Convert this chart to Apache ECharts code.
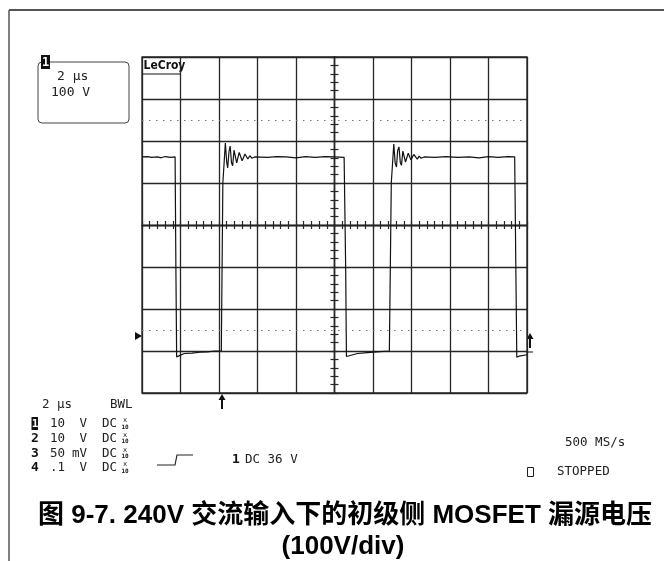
<!DOCTYPE html>
<html>
<head>
<meta charset="utf-8">
<script src="https://cdn.jsdelivr.net/npm/echarts@6/dist/echarts.min.js"></script>
<style>
  html, body { margin: 0; padding: 0; background: #fff; }
  #chart { width: 664px; height: 561px; }
</style>
</head>
<body>
<div id="chart"></div>
<script>
// time in µs relative to screen centre, voltage in V relative to screen centre (100 V/div)
var timeUs = [-10, -9.7, -9.5, -9.2, -9.0, -8.8, -8.5, -8.28, -8.24, -8.20, -8.15, -7.8, -7.4, -7.0, -6.6, -6.2, -5.88,
  -5.8, -5.67, -5.60, -5.55, -5.48, -5.42, -5.35, -5.29, -5.22, -5.16, -5.08, -5.02, -4.95, -4.88, -4.8, -4.73, -4.65, -4.58, -4.5, -4.4, -4.3, -4.15,
  -3.5, -3.0, -2.5, -2.0, -1.5, -1.0, -0.5, 0, 0.5, 0.58, 0.62, 0.7, 1.2, 1.7, 2.2, 2.85,
  2.95, 3.08, 3.15, 3.22, 3.28, 3.35, 3.42, 3.48, 3.55, 3.62, 3.69, 3.76, 3.83, 3.9, 3.97, 4.05, 4.12, 4.2, 4.3, 4.4, 4.5, 4.65,
  5.2, 5.8, 6.4, 7.0, 7.5, 8.0, 8.5, 9.0, 9.36, 9.42, 9.47, 9.6, 10];
var drainV = [162, 163, 161, 162, 160, 163, 161, 162, -100, -314, -312, -306, -305, -303, -302, -300, -300,
  100, 195, 150, 136, 175, 188, 148, 141, 178, 181, 148, 146, 173, 174, 153, 154, 169, 168, 157, 165, 159, 162,
  161, 163, 162, 160, 163, 161, 163, 162, 161, -100, -313, -311, -306, -304, -302, -300,
  100, 193, 148, 138, 177, 186, 148, 142, 176, 179, 150, 149, 171, 172, 155, 156, 168, 166, 157, 164, 159, 162,
  161, 163, 161, 162, 160, 163, 161, 163, 162, -100, -315, -312, -309];
var dottedLevels = [250, -250];

var channelIds = ['1', '2', '3', '4'];
var channelScale = ['10', '10', '50', '.1'];
var channelUnit = ['V', 'V', 'mV', 'V'];

var mono = '"DejaVu Sans Mono", monospace';
var ink = '#222';
var gridInk = '#262626';

var wave = [];
for (var i = 0; i < timeUs.length; i++) {
  wave.push([timeUs[i], drainV[i]]);
}

var chart = echarts.init(document.getElementById('chart'));

function centerAxis(pos, showSplit, min, max, interval, tickLen) {
  return {
    type: 'value', position: pos, min: min, max: max, interval: interval,
    axisLine: { show: true, onZero: true, onZeroAxisIndex: 0, lineStyle: { color: gridInk, width: 1.3 } },
    axisTick: { show: true, length: tickLen, lineStyle: { color: gridInk, width: 1.2 } },
    minorTick: { show: true, splitNumber: 5, length: tickLen, lineStyle: { color: gridInk, width: 1.2 } },
    axisLabel: { show: false },
    splitLine: { show: showSplit, lineStyle: { color: gridInk, width: 1.3 } }
  };
}

// graphic elements: scope annotations
var g = [];
// outer frame
g.push({ type: 'line', shape: { x1: 9, y1: 10, x2: 664, y2: 10 }, style: { stroke: '#555', lineWidth: 2 } });
g.push({ type: 'line', shape: { x1: 9, y1: 10, x2: 9, y2: 561 }, style: { stroke: '#555', lineWidth: 1.5 } });

// channel box top-left
g.push({ type: 'rect', shape: { x: 38, y: 62, width: 91, height: 61, r: 4 }, style: { fill: 'none', stroke: '#444', lineWidth: 1 } });
g.push({ type: 'rect', shape: { x: 41, y: 55, width: 9, height: 14 }, style: { fill: '#111' } });
g.push({ type: 'text', style: { text: '1', x: 45.5, y: 62.5, font: 'bold 12px ' + mono, fill: '#fff', align: 'center', verticalAlign: 'middle' } });
g.push({ type: 'text', style: { text: '2 µs', x: 57, y: 77, font: '13px ' + mono, fill: ink, verticalAlign: 'middle' } });
g.push({ type: 'text', style: { text: '100 V', x: 51, y: 93, font: '13px ' + mono, fill: ink, verticalAlign: 'middle' } });

// LeCroy logo
g.push({ type: 'text', style: { text: 'LeCroy', x: 143.5, y: 66, font: 'bold 12px "DejaVu Sans Condensed", "DejaVu Sans"', fill: '#111', verticalAlign: 'middle' } });
g.push({ type: 'line', shape: { x1: 143, y1: 74, x2: 180, y2: 74 }, style: { stroke: '#111', lineWidth: 1.2 } });

// markers
g.push({ type: 'polygon', shape: { points: [[135, 332], [142, 336], [135, 340]] }, style: { fill: '#111' } });
g.push({ type: 'line', shape: { x1: 222, y1: 409, x2: 222, y2: 398 }, style: { stroke: '#111', lineWidth: 2 } });
g.push({ type: 'polygon', shape: { points: [[218.5, 400], [222, 394], [225.5, 400]] }, style: { fill: '#111' } });
g.push({ type: 'line', shape: { x1: 530, y1: 348, x2: 530, y2: 337 }, style: { stroke: '#111', lineWidth: 2 } });
g.push({ type: 'polygon', shape: { points: [[526.5, 339], [530, 333], [533.5, 339]] }, style: { fill: '#111' } });
g.push({ type: 'line', shape: { x1: 526, y1: 352, x2: 533, y2: 352 }, style: { stroke: '#111', lineWidth: 1 } });

// bottom left settings
g.push({ type: 'text', style: { text: '2 µs', x: 42, y: 405, font: '12.5px ' + mono, fill: ink, verticalAlign: 'middle' } });
g.push({ type: 'text', style: { text: 'BWL', x: 110, y: 405, font: '12.5px ' + mono, fill: ink, verticalAlign: 'middle' } });
for (var r = 0; r < channelIds.length; r++) {
  var ry = 424 + r * 14.7;
  if (r === 0) {
    g.push({ type: 'rect', shape: { x: 31.5, y: ry - 7, width: 6.5, height: 13 }, style: { fill: '#111' } });
    g.push({ type: 'text', style: { text: '1', x: 35, y: ry, font: 'bold 11px ' + mono, fill: '#fff', align: 'center', verticalAlign: 'middle' } });
  } else {
    g.push({ type: 'text', style: { text: channelIds[r], x: 35, y: ry, font: 'bold 13px ' + mono, fill: '#111', align: 'center', verticalAlign: 'middle' } });
  }
  g.push({ type: 'text', style: { text: channelScale[r], x: 50, y: ry, font: '12.5px ' + mono, fill: ink, verticalAlign: 'middle' } });
  g.push({ type: 'text', style: { text: channelUnit[r], x: 87, y: ry, font: '12.5px ' + mono, fill: ink, align: 'right', verticalAlign: 'middle' } });
  g.push({ type: 'text', style: { text: 'DC', x: 102, y: ry, font: '12.5px ' + mono, fill: ink, verticalAlign: 'middle' } });
  g.push({ type: 'text', style: { text: 'x', x: 125, y: ry - 3.5, font: '7px ' + mono, fill: ink, align: 'center', verticalAlign: 'middle' } });
  g.push({ type: 'text', style: { text: '10', x: 125, y: ry + 3, font: 'bold 6px ' + mono, fill: ink, align: 'center', verticalAlign: 'middle' } });
}

// trigger symbol
g.push({ type: 'polyline', shape: { points: [[157, 465], [175, 465], [177, 455], [193, 455]] }, style: { stroke: '#222', lineWidth: 1.2, fill: 'none' } });
g.push({ type: 'text', style: { text: '1', x: 232, y: 460, font: 'bold 13px ' + mono, fill: '#111', verticalAlign: 'middle' } });
g.push({ type: 'text', style: { text: 'DC 36 V', x: 245, y: 460, font: '12.5px ' + mono, fill: ink, verticalAlign: 'middle' } });

// right side status
g.push({ type: 'text', style: { text: '500 MS/s', x: 565, y: 443, font: '12.5px ' + mono, fill: ink, verticalAlign: 'middle' } });
g.push({ type: 'rect', shape: { x: 527.5, y: 467.5, width: 6, height: 9 }, style: { fill: 'none', stroke: '#222', lineWidth: 1 } });
g.push({ type: 'text', style: { text: 'STOPPED', x: 557, y: 472, font: '12.5px ' + mono, fill: ink, verticalAlign: 'middle' } });

// caption
var capFont = 'bold 26px "Liberation Sans", Arial, "Noto Sans CJK SC", sans-serif';
g.push({ type: 'text', style: { text: '图 9-7. 240V 交流输入下的初级侧 MOSFET 漏源电压', x: 345, y: 516, font: capFont, fill: '#000', align: 'center', verticalAlign: 'middle' } });
g.push({ type: 'text', style: { text: '(100V/div)', x: 343, y: 547, font: capFont, fill: '#000', align: 'center', verticalAlign: 'middle' } });

var option = {
  animation: false,
  backgroundColor: '#fff',
  grid: { left: 142, top: 57, width: 385, height: 336, show: true, borderColor: gridInk, borderWidth: 1.3, backgroundColor: 'transparent' },
  xAxis: [
    centerAxis('bottom', true, -10, 10, 2, 4),
    centerAxis('top', false, -10, 10, 2, 4)
  ],
  yAxis: [
    centerAxis('left', true, -400, 400, 100, 4),
    centerAxis('right', false, -400, 400, 100, 4)
  ],
  graphic: g,
  series: [{
    type: 'line',
    xAxisIndex: 0,
    yAxisIndex: 0,
    data: wave,
    showSymbol: false,
    symbol: 'none',
    lineStyle: { color: '#111', width: 1.2 },
    markLine: {
      silent: true,
      symbol: 'none',
      label: { show: false },
      lineStyle: { color: '#777', type: [1.5, 5.5], width: 1 },
      data: dottedLevels.map(function (v) { return { yAxis: v }; })
    }
  }]
};

chart.setOption(option);
</script>
</body>
</html>
